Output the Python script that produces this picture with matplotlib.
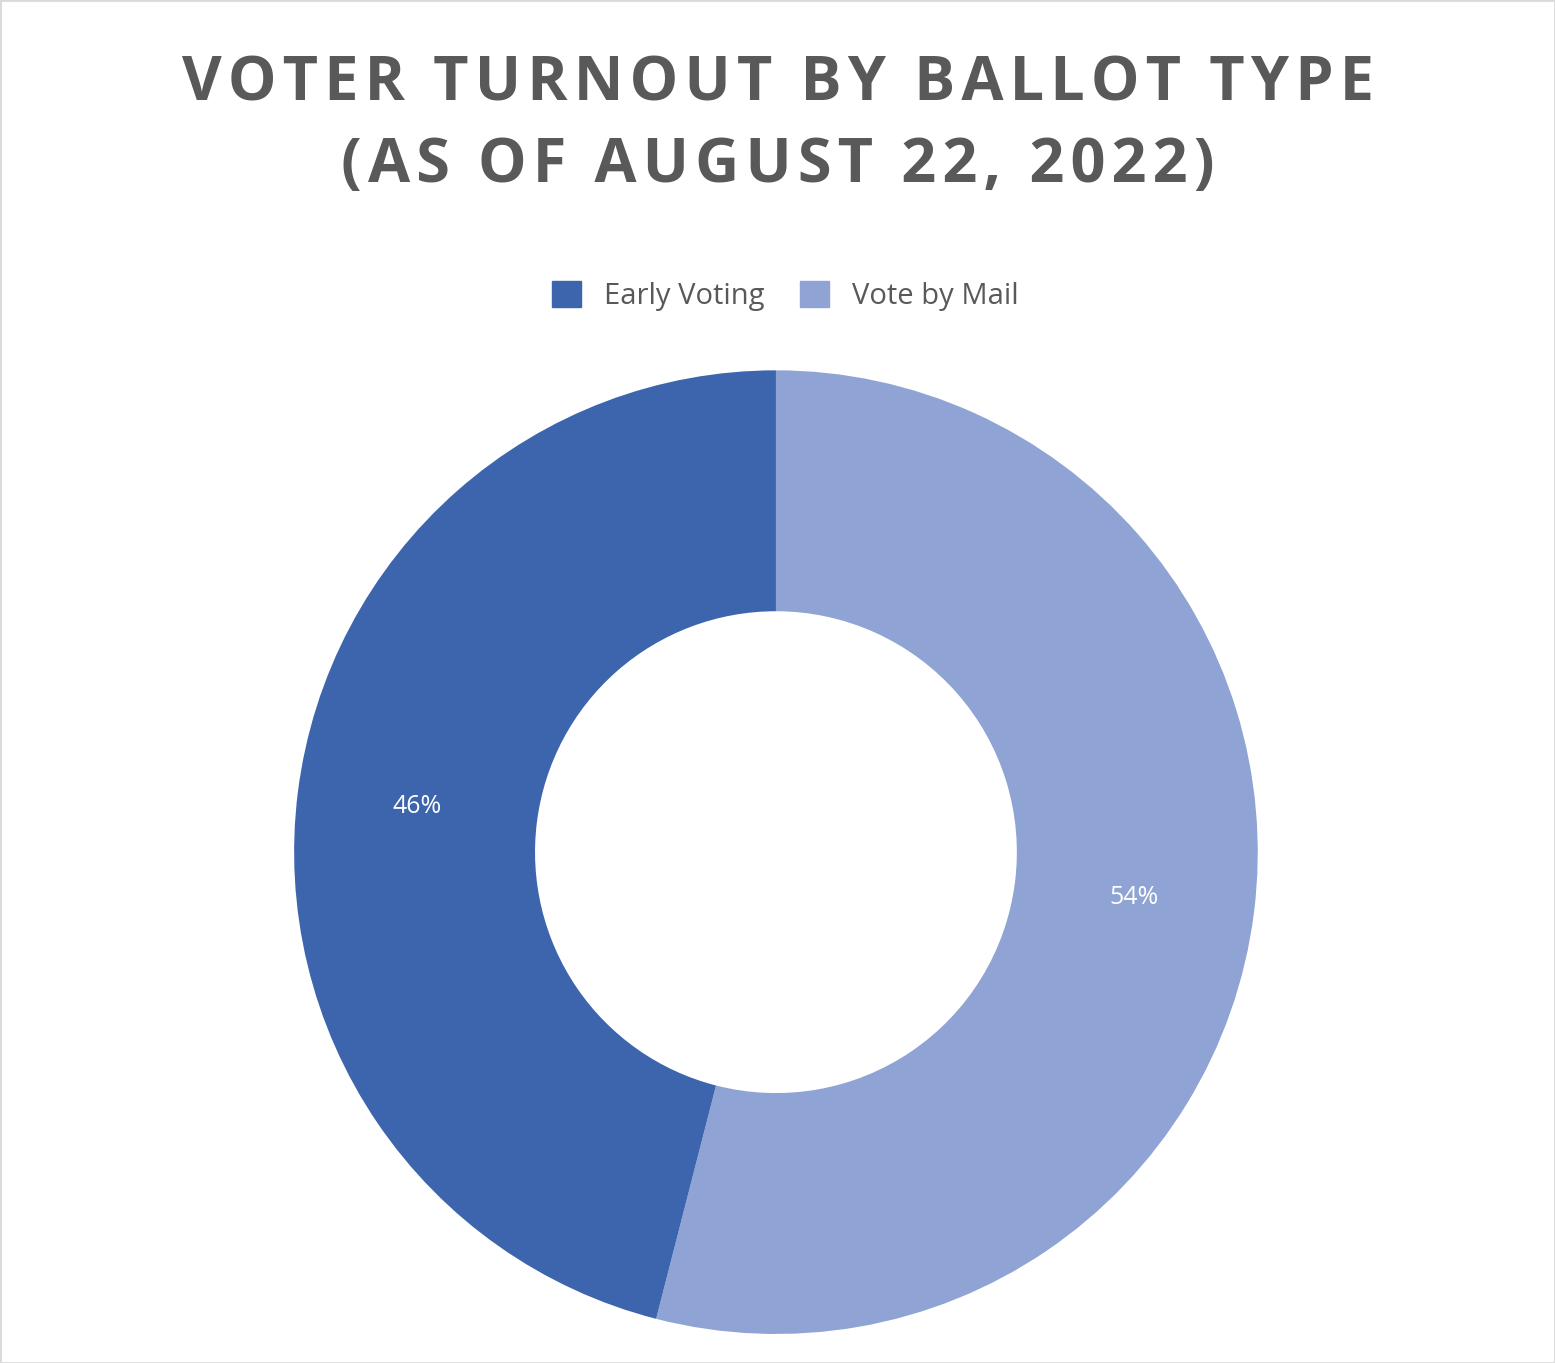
import matplotlib.pyplot as plt
from matplotlib.patches import Patch, Rectangle

labels = ['Vote by Mail', 'Early Voting']
shares = [54, 46]
colors = ['#8FA3D4', '#3D65AD']
legend_order = ['Early Voting', 'Vote by Mail']

plt.rcParams['font.family'] = 'Open Sans'
fig = plt.figure(figsize=(15.55, 13.63), dpi=100)
fig.patches.append(Rectangle((0, 0), 1, 1, transform=fig.transFigure,
                             fill=False, edgecolor='#D9D9D9', linewidth=2))

ax = fig.add_axes([0.189, 0.0213, 0.62, 0.707])
wedges, texts, autotexts = ax.pie(
    shares, colors=colors, startangle=90, counterclock=False,
    autopct='%d%%', pctdistance=0.75,
    wedgeprops=dict(width=0.5, edgecolor='white', linewidth=0),
    textprops=dict(color='white', fontsize=18))
ax.set_xlim(-1, 1)
ax.set_ylim(-1, 1)
ax.set_aspect('equal')

title = 'VOTER TURNOUT BY BALLOT TYPE\n(AS OF AUGUST 22, 2022)'
title = '\n'.join('\u200a'.join(line) for line in title.split('\n'))
fig.text(0.5, 0.908, title, ha='center', va='center', fontsize=44,
         fontweight='bold', color='#595959', linespacing=1.45)

handles = [Patch(color=colors[labels.index(l)]) for l in legend_order]
fig.legend(handles, legend_order, loc='center', bbox_to_anchor=(0.505, 0.783),
           ncol=2, frameon=False, fontsize=21, labelcolor='#595959',
           handlelength=1.0, handleheight=1.0, columnspacing=1.2)

plt.savefig('out.png', dpi=100)
